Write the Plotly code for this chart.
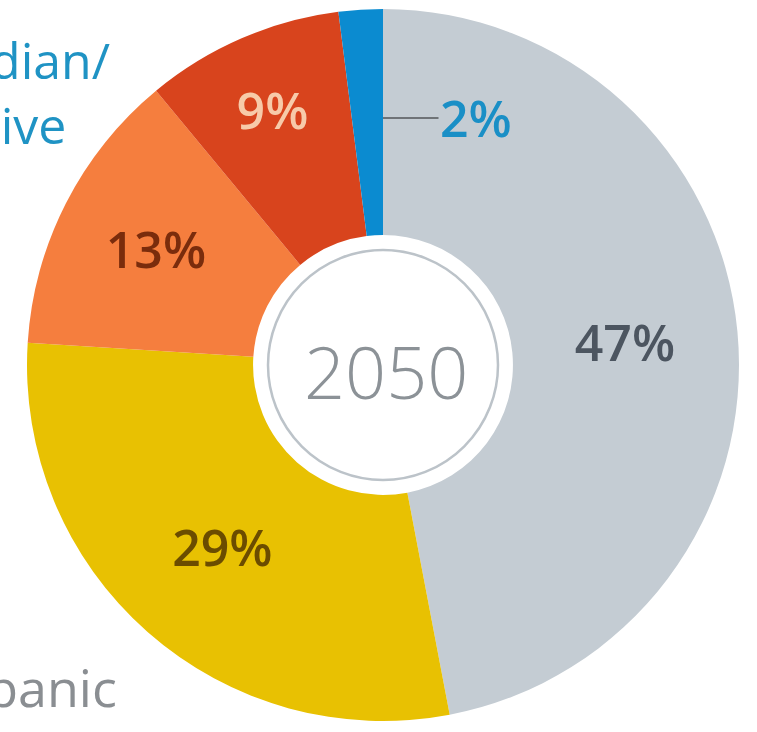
import plotly.graph_objects as go

W, H = 757, 732

groups = ["White", "Hispanic", "Black", "Asian", "American Indian/Alaska Native"]
shares = [47, 29, 13, 9, 2]
slice_colors = ["#c4ccd3", "#e8c102", "#f57e3e", "#d8441d", "#0b8bd0"]
label_colors = ["#4c5560", "#6b4c00", "#7a2c0c", "#f7caa9", "#1a8fc6"]
label_positions = ["inside", "inside", "inside", "inside", "none"]
center_label = "2050"
side_labels = ["American Indian/<br>Alaska Native", "Hispanic"]

# pixel geometry of the donut (styling only)
cx, cy, R = 383, 365, 356


def px(x):
    return x / W


def py(y):
    return (H - y) / H


fig = go.Figure()
fig.add_trace(go.Pie(
    labels=groups,
    values=shares,
    sort=False,
    direction="clockwise",
    rotation=0,
    hole=0.365,
    marker=dict(colors=slice_colors, line=dict(width=0)),
    textinfo="value",
    texttemplate="%{value}%",
    textposition=label_positions,
    insidetextorientation="horizontal",
    textfont=dict(family="Open Sans", size=50, color=label_colors, weight=600),
    showlegend=False,
    hoverinfo="skip",
    domain=dict(x=[px(cx - R), px(cx + R)], y=[py(cy + R), py(cy - R)]),
))

annotations = [
    dict(text=center_label, x=px(386), y=py(371), xref="paper", yref="paper",
         showarrow=False, font=dict(family="Open Sans", size=72, color="#8c9297", weight=300)),
    dict(text=f"{shares[4]}%", x=px(383), y=py(118), xref="paper", yref="paper",
         showarrow=True, arrowhead=0, arrowwidth=2, arrowcolor="#6f7377",
         ax=93, ay=0, standoff=0,
         font=dict(family="Open Sans", size=50, color=label_colors[4], weight=600)),
    dict(text=side_labels[0], x=px(112), y=py(92), xref="paper", yref="paper",
         xanchor="right", yanchor="middle", align="center", showarrow=False,
         font=dict(family="Open Sans", size=50, color="#1f93c4")),
    dict(text=side_labels[1], x=px(119), y=py(686), xref="paper", yref="paper",
         xanchor="right", yanchor="middle", showarrow=False,
         font=dict(family="Open Sans", size=52, color="#8a8e92")),
]

shapes = [
    dict(type="circle", xref="paper", yref="paper",
         x0=px(cx - 115), x1=px(cx + 115), y0=py(cy + 115), y1=py(cy - 115),
         line=dict(color="#bcc3c9", width=2.5)),
]

fig.update_layout(
    width=W, height=H,
    margin=dict(l=0, r=0, t=0, b=0),
    paper_bgcolor="white",
    plot_bgcolor="white",
    annotations=annotations,
    shapes=shapes,
)

fig.write_html("out.html")
